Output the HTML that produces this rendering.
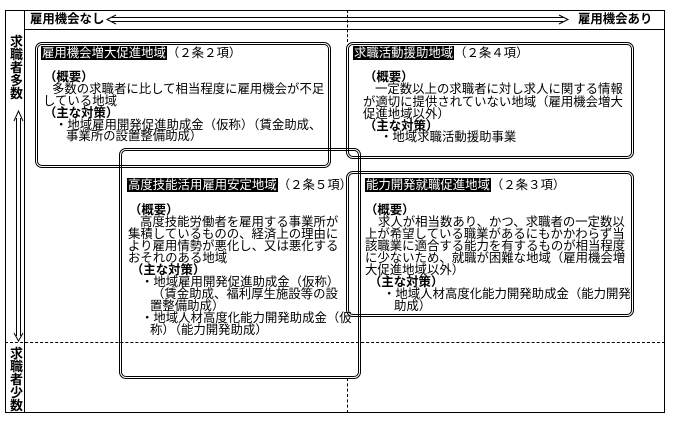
<!DOCTYPE html>
<html><head><meta charset="utf-8"><style>
body{margin:0;width:675px;height:430px;background:#fff;position:relative;overflow:hidden;font-family:"Liberation Sans","Noto Sans CJK JP",sans-serif;color:#000}
.a{position:absolute;white-space:nowrap;font-size:12.4px;line-height:13px}
.b{position:absolute;border:3px double #000;border-radius:7px;box-sizing:border-box}
.t{background:#000;color:#fff;padding:0 1px}
.h{font-weight:bold}
.l{position:absolute;background:#000}
</style></head><body>
<div style="position:absolute;left:5px;top:10px;width:660px;height:403px;border:1px solid #000;box-sizing:border-box"></div>
<div class="l" style="left:24px;top:10px;width:1px;height:403px"></div>
<div class="l" style="left:24px;top:29px;width:641px;height:1px"></div>
<div style="position:absolute;left:5px;top:342px;width:660px;border-top:1px dashed #000"></div>
<div style="position:absolute;left:347px;top:10px;height:32px;border-left:1px dashed #000"></div>
<div style="position:absolute;left:347px;top:378px;height:35px;border-left:1px dashed #000"></div>
<div class="a h" style="left:30px;top:13px">雇用機会なし</div>
<div class="a h" style="left:578px;top:13px">雇用機会あり</div>
<svg style="position:absolute;left:0;top:0" width="675" height="430">
<line x1="112" y1="17.5" x2="563" y2="17.5" stroke="#000"/>
<line x1="112" y1="21.5" x2="563" y2="21.5" stroke="#000"/>
<path d="M116 15 L107 19.5 L116 24" fill="none" stroke="#000"/>
<path d="M559 15 L568 19.5 L559 24" fill="none" stroke="#000"/>
<line x1="16.5" y1="118" x2="16.5" y2="336" stroke="#000"/>
<line x1="20.5" y1="118" x2="20.5" y2="336" stroke="#000"/>
<path d="M14 121 L18.5 111 L23 121" fill="none" stroke="#000"/>
<path d="M14 333 L18.5 341 L23 333" fill="none" stroke="#000"/>
</svg>
<div class="a h" style="left:10px;top:35px;width:14px;white-space:normal;line-height:13px;font-size:13px">求職者多数</div>
<div class="a h" style="left:10px;top:347px;width:14px;white-space:normal;line-height:13px;font-size:13px">求職者少数</div>
<div class="b" style="left:35px;top:42px;width:296px;height:126px"></div>
<div class="b" style="left:346px;top:42px;width:288px;height:117px"></div>
<div class="b" style="left:346px;top:171px;width:288px;height:146px"></div>
<div class="b" style="left:119px;top:148px;width:242px;height:231px"></div>
<div class="a" style="left:41px;top:47px"><span class="t">雇用機会増大促進地域</span>（２条２項）</div>
<div class="a h" style="left:44px;top:71px">（概要）</div>
<div class="a" style="left:52px;top:83px">多数の求職者に比して相当程度に雇用機会が不足</div>
<div class="a" style="left:43px;top:95px">している地域</div>
<div class="a h" style="left:44px;top:107px">（主な対策）</div>
<div class="a" style="left:55px;top:119px">・地域雇用開発促進助成金（仮称）（賃金助成、</div>
<div class="a" style="left:66px;top:130px">事業所の設置整備助成）</div>
<div class="a" style="left:353px;top:47px"><span class="t">求職活動援助地域</span>（２条４項）</div>
<div class="a h" style="left:364px;top:71px">（概要）</div>
<div class="a" style="left:375px;top:83px">一定数以上の求職者に対し求人に関する情報</div>
<div class="a" style="left:363px;top:96px">が適切に提供されていない地域（雇用機会増大</div>
<div class="a" style="left:363px;top:108px">促進地域以外）</div>
<div class="a h" style="left:364px;top:120px">（主な対策）</div>
<div class="a" style="left:380px;top:131px">・地域求職活動援助事業</div>
<div class="a" style="left:127px;top:179px"><span class="t">高度技能活用雇用安定地域</span>（２条５項）</div>
<div class="a h" style="left:129px;top:204px">（概要）</div>
<div class="a" style="left:140px;top:216px">高度技能労働者を雇用する事業所が</div>
<div class="a" style="left:128px;top:228px">集積しているものの、経済上の理由に</div>
<div class="a" style="left:128px;top:240px">より雇用情勢が悪化し、又は悪化する</div>
<div class="a" style="left:128px;top:252px">おそれのある地域</div>
<div class="a h" style="left:131px;top:264px">（主な対策）</div>
<div class="a" style="left:141px;top:276px">・地域雇用開発促進助成金（仮称）</div>
<div class="a" style="left:152px;top:288px">（賃金助成、福利厚生施設等の設</div>
<div class="a" style="left:150px;top:300px">置整備助成）</div>
<div class="a" style="left:141px;top:312px">・地域人材高度化能力開発助成金（仮</div>
<div class="a" style="left:150px;top:324px">称）（能力開発助成）</div>
<div class="a" style="left:365px;top:179px"><span class="t">能力開発就職促進地域</span>（２条３項）</div>
<div class="a h" style="left:365px;top:204px">（概要）</div>
<div class="a" style="left:378px;top:216px">求人が相当数あり、かつ、求職者の一定数以</div>
<div class="a" style="left:365px;top:228px">上が希望している職業があるにもかかわらず当</div>
<div class="a" style="left:365px;top:240px">該職業に適合する能力を有するものが相当程度</div>
<div class="a" style="left:365px;top:252px">に少ないため、就職が困難な地域（雇用機会増</div>
<div class="a" style="left:365px;top:264px">大促進地域以外）</div>
<div class="a h" style="left:369px;top:276px">（主な対策）</div>
<div class="a" style="left:383px;top:288px">・地域人材高度化能力開発助成金（能力開発</div>
<div class="a" style="left:394px;top:300px">助成）</div>
</body></html>
